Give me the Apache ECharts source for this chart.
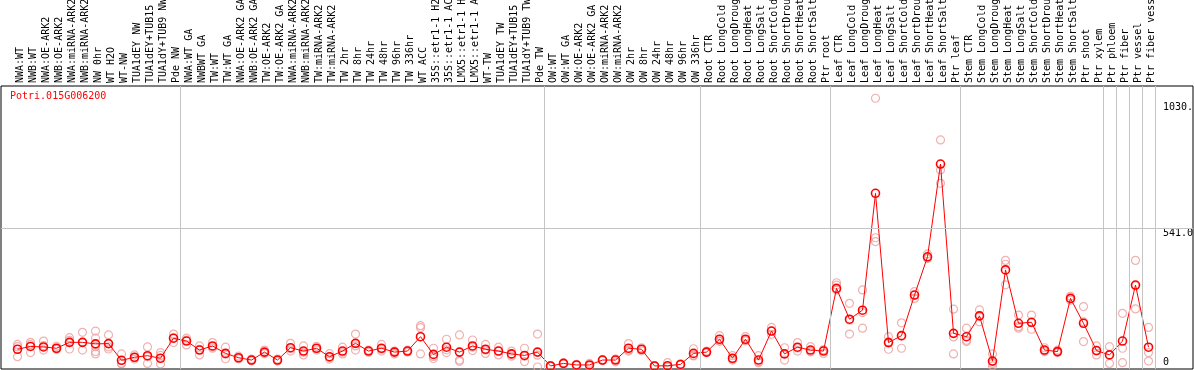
<!DOCTYPE html>
<html><head><meta charset="utf-8">
<script src="https://cdn.jsdelivr.net/npm/echarts@6/dist/echarts.min.js"></script>
<style>html,body{margin:0;padding:0;background:#fff}#c{width:1194px;height:370px}</style>
</head><body><div id="c"></div>
<script>
const chartTitle = 'Potri.015G006200';
const categories = [
  'NWA:WT','NWB:WT','NWA:OE-ARK2','NWB:OE-ARK2','NWA:miRNA-ARK2','NWB:miRNA-ARK2','NW 0hr','WT H2O','WT-NW','TUA1dEY NW','TUA1dEY+TUB15 NW','TUA1dY+TUB9 NW','Pde NW',
  'NWA:WT GA','NWBWT GA','TW:WT','TW:WT GA','NWA:OE-ARK2 GA','NWB:OE-ARK2 GA','TW:OE-ARK2','TW:OE-ARK2 GA','NWA:miRNA-ARK2 GA','NWB:miRNA-ARK2 GA','TW:miRNA-ARK2','TW:miRNA-ARK2','TW 2hr','TW 8hr','TW 24hr','TW 48hr','TW 96hr','TW 336hr','WT ACC','35S::etr1-1 H2O','35S::etr1-1 ACC','LMX5::etr1-1 H2O','LMX5::etr1-1 ACC','WT-TW','TUA1dEY TW','TUA1dEY+TUB15 TW','TUA1dY+TUB9 TW','Pde TW',
  'OW:WT','OW:WT GA','OW:OE-ARK2','OW:OE-ARK2 GA','OW:miRNA-ARK2','OW:miRNA-ARK2','OW 2hr','OW 8hr','OW 24hr','OW 48hr','OW 96hr','OW 336hr',
  'Root CTR','Root LongCold','Root LongDrought','Root LongHeat','Root LongSalt','Root ShortCold','Root ShortDrought','Root ShortHeat','Root ShortSalt','Ptr root',
  'Leaf CTR','Leaf LongCold','Leaf LongDrought','Leaf LongHeat','Leaf LongSalt','Leaf ShortCold','Leaf ShortDrought','Leaf ShortHeat','Leaf ShortSalt','Ptr leaf',
  'Stem CTR','Stem LongCold','Stem LongDrought','Stem LongHeat','Stem LongSalt','Stem ShortCold','Stem ShortDrought','Stem ShortHeat','Stem ShortSalt','Ptr shoot','Ptr xylem',
  'Ptr phloem','Ptr fiber','Ptr vessel','Ptr fiber vessel'
];
const groupSizes = [13, 28, 12, 10, 10, 11, 1, 1, 1, 1];
const means = [
  69,80,78,73,96,96,90,91,26,38,44,34,112,
  101,66,82,53,36,27,58,27,75,62,73,40,62,92,62,73,58,62,118,49,77,58,82,69,62,51,45,58,
  4,14,8,8,27,27,73,69,4,5,10,53,
  58,108,34,108,27,140,51,77,66,62,
  306,186,221,676,95,122,280,429,790,131,
  118,199,23,378,170,174,66,60,267,170,64,
  47,101,319,77
];
const replicates = [
  [88,79,40],[96,88,56],[101,83,66],[80,70,69],[114,70,104],[135,96,66],[140,112,79,60,51],[125,70,78],[51,14,13],[47,31,36],[78,14,40],[56,45,12],[128,95,113],
  [112,86,105],[82,47,69],[95,73,78],[77,32,50],[42,32,34],[31,24,26],[66,52,56],[31,23,27],[92,62,71],[82,47,57],[80,66,73],[52,31,37],[77,51,58],[128,66,82],[66,57,63],[88,62,69],[51,62,61],[66,58,62],[161,153,51],[73,33,41],[108,56,67],[125,27,22],[105,64,77],[88,53,66],[77,47,62],[62,42,49],[73,21,42],[128,0,46],
  [2,5,5],[16,12,14],[10,6,8],[14,4,6],[27,25,29],[20,31,30],[91,62,66],[75,63,69],[2,5,5],[17,0,0],[8,12,10],[71,45,43],
  [62,55,57],[122,100,102],[44,31,27],[118,103,103],[44,20,17],[154,127,139],[75,27,51],[95,62,74],[79,60,59],[53,66,67],
  [328,319,300],[248,128,182],[300,151,212],[1046,503,488],[118,69,98],[172,73,121],[267,280,293],[440,425,422],[884,767,715],[225,51,117],
  [151,99,104],[222,176,199],[51,4,14],[415,400,320],[202,157,151],[202,147,173],[75,60,63],[66,58,56],[275,260,266],[235,99,176],[82,47,63],
  [79,14,48],[209,73,17],[415,226,316],[154,56,23]
];
const yGridValue = 541;
const yLabelValuesTop = [541, 1030];
const yLabelTextsTop = ['541.0', '1030.'];
const yLabelValuesBottom = [0];
const yLabelTextsBottom = ['0'];

const nCat = categories.length;
const yMin = -7.8, yMax = 1097.6 - 1 / 0.25693;
const boundaries = [];
groupSizes.reduce((acc, s) => { boundaries.push(acc + s); return acc + s; }, 0);
const repData = [];
replicates.forEach((r, i) => r.forEach(v => repData.push([i, v])));

const mono = 'DejaVu Sans Mono';
const chart = echarts.init(document.getElementById('c'), null, {renderer: 'canvas'});
chart.setOption({
  animation: false,
  backgroundColor: '#fff',
  title: {text: chartTitle, left: 10, top: 91, padding: 0,
    textStyle: {color: '#ff0000', fontFamily: mono, fontSize: 10, fontWeight: 'normal'}},
  grid: [
    {left: 11, top: 86, width: 13 * nCat, height: 283, show: false, outerBoundsMode: 'none', containLabel: false},
    {left: 1, top: 86, width: 1192, height: 283, show: true, borderColor: '#000', borderWidth: 1,
     backgroundColor: 'rgba(0,0,0,0)', outerBoundsMode: 'none', containLabel: false}
  ],
  xAxis: [
    {type: 'category', gridIndex: 0, data: categories, position: 'top', boundaryGap: true,
     axisLine: {show: false}, axisTick: {show: false}, splitLine: {show: false},
     axisLabel: {interval: 0, rotate: 90, margin: 3, verticalAlign: 'top', lineHeight: 6,
       fontFamily: mono, fontSize: 10, color: '#000'}},
    {type: 'value', gridIndex: 1, min: -10 / 13, max: 1182 / 13, show: false}
  ],
  yAxis: [
    {type: 'value', gridIndex: 0, min: yMin, max: yMax, show: false},
    {type: 'value', gridIndex: 1, min: yMin, max: yMax, position: 'right', offset: -30,
     axisLine: {show: false}, axisTick: {show: false}, splitLine: {show: false},
     axisLabel: {customValues: yLabelValuesTop, margin: 0, align: 'left', verticalAlign: 'top',
       fontFamily: mono, fontSize: 10, color: '#000',
       formatter: v => { const k = yLabelValuesTop.indexOf(Math.round(v)); return k >= 0 ? yLabelTextsTop[k] : ''; }}},
    {type: 'value', gridIndex: 1, min: yMin, max: yMax, position: 'right', offset: -30,
     axisLine: {show: false}, axisTick: {show: false}, splitLine: {show: false},
     axisLabel: {customValues: yLabelValuesBottom, margin: 0, align: 'left', verticalAlign: 'bottom',
       fontFamily: mono, fontSize: 10, color: '#000',
       formatter: v => { const k = yLabelValuesBottom.indexOf(Math.round(v)); return k >= 0 ? yLabelTextsBottom[k] : ''; }}}
  ],
  series: [
    {type: 'line', xAxisIndex: 1, yAxisIndex: 1, data: [], silent: true,
     markLine: {silent: true, symbol: 'none', animation: false, label: {show: false},
       lineStyle: {color: '#c4c4c4', width: 1, type: 'solid'},
       emphasis: {disabled: true},
       data: [{yAxis: yGridValue}].concat(boundaries.map(b => ({xAxis: b})))}},
    {type: 'scatter', xAxisIndex: 0, yAxisIndex: 0, data: repData, symbol: 'circle', symbolSize: 8,
     itemStyle: {color: 'rgba(0,0,0,0)', borderColor: '#ee9d9d', borderWidth: 1.2}, silent: true, z: 3},
    {type: 'line', xAxisIndex: 0, yAxisIndex: 0, data: means, symbol: 'circle', symbolSize: 8,
     lineStyle: {color: '#ff0000', width: 1}, itemStyle: {color: 'rgba(0,0,0,0)', borderColor: '#ff0000', borderWidth: 1.6},
     silent: true, z: 4}
  ]
});
</script></body></html>
